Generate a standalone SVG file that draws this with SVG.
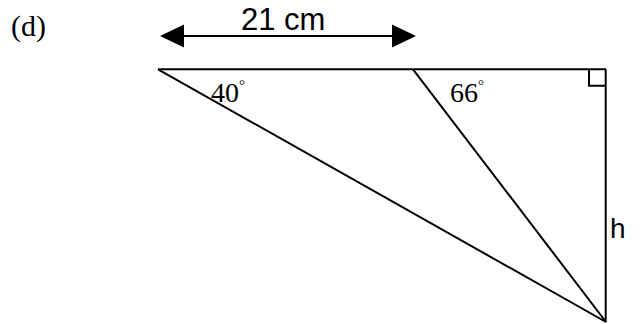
<svg xmlns="http://www.w3.org/2000/svg" width="640" height="324" viewBox="0 0 640 324">
<style>
.ln{stroke:#000;stroke-width:2;fill:none}
.ar{fill:#000}
.times{font-family:"Liberation Serif","Times New Roman",serif;fill:#000}
.sans{font-family:"Liberation Sans",Arial,sans-serif;fill:#000}
</style>
<rect width="640" height="324" fill="#fff"/>
<g id="label-d"><text class="times" x="11" y="36" font-size="30">(d)</text></g>
<g id="dimension">
<line class="ln" x1="182" y1="36" x2="394" y2="36"/>
<polygon class="ar" points="160,36 184,24.5 184,47.5"/>
<polygon class="ar" points="416,36 392,24.5 392,47.5"/>
<text class="sans" x="241" y="29.5" font-size="31">21 cm</text>
</g>
<g id="connectors">
<line class="ln" x1="158" y1="69.3" x2="606" y2="69.3"/>
<line class="ln" x1="158" y1="69.3" x2="606" y2="322"/>
<line class="ln" x1="413" y1="69.3" x2="606" y2="322"/>
<line class="ln" x1="605.7" y1="69.3" x2="605.7" y2="322"/>
<polyline class="ln" points="589,69.3 589,85.7 605.7,85.7"/>
</g>
<g id="angle-40"><text class="times" x="211" y="101.5" font-size="28">40<tspan font-size="15" dy="-12">°</tspan></text></g>
<g id="angle-66"><text class="times" x="450" y="101.5" font-size="28">66<tspan font-size="15" dy="-12">°</tspan></text></g>
<g id="label-h"><text class="sans" x="610" y="238" font-size="28">h</text></g>
</svg>
